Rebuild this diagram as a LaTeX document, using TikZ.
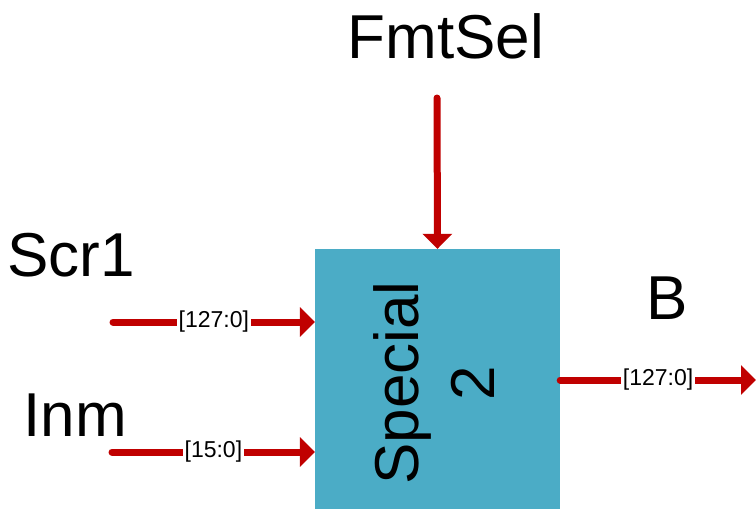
\documentclass[tikz,border=0pt]{standalone}
\usepackage{fontspec}
\setmainfont{Liberation Sans}
\usepackage{xcolor}
\usetikzlibrary{positioning, arrows.meta}

\definecolor{blockblue}{HTML}{4BACC6}
\definecolor{wirered}{HTML}{C00000}

\begin{document}
\begin{tikzpicture}[
    x=1pt, y=-1pt,
    block/.style={
        fill=blockblue, minimum width=245pt, minimum height=260pt, inner sep=0pt,
    },
    blocktext/.style={
        rotate=90, align=center, inner sep=0pt,
        font=\fontsize{62}{76}\selectfont,
    },
    port/.style={anchor=base, inner sep=0pt, font=\fontsize{62}{74}\selectfont},
    wire/.style={-{Triangle[length=15pt, width=29pt]}, draw=wirered, line width=7pt, line cap=round},
    bus/.style={fill=white, inner sep=1.5pt, font=\fontsize{23}{26}\selectfont},
]
\useasboundingbox (0,0) rectangle (756,509);

\node[block] (spec) at (437.5,379) {};
\node[blocktext] (specname) at ([shift={(-3,4)}]spec.center) {Special\\2};

\node[port] (fmtsel) at (446,58) {FmtSel};
\node[port] (scr1) at (71,276) {Scr1};
\node[port] (inm) at (75,436) {Inm};
\node[port] (bname) at (667,319) {B};

\coordinate (fmtin) at (437,98);
\coordinate (scr1in) at (113,322);
\coordinate (inmin) at (112,452);
\coordinate (bout) at (756,380);

\draw[wire] (fmtin) -- (spec.north);
\draw[wire] (scr1in) -- node[bus] {[127:0]} (scr1in -| spec.west);
\draw[wire] (inmin) -- node[bus] {[15:0]} (inmin -| spec.west);
\draw[wire] (spec.east |- bout) -- node[bus] {[127:0]} (bout);

\end{tikzpicture}
\end{document}
